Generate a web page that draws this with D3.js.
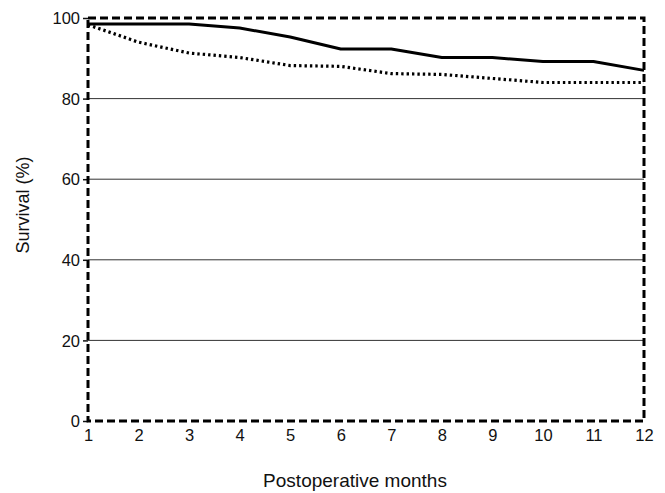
<!DOCTYPE html>
<html><head><meta charset="utf-8">
<script src="https://cdn.jsdelivr.net/npm/d3@7"></script>
<style>body{margin:0;background:#fff}svg{display:block}text{font-family:"Liberation Sans",Arial,sans-serif;fill:#111}</style>
</head><body><svg id="c" width="665" height="493"></svg>
<script>
const months = [1,2,3,4,5,6,7,8,9,10,11,12];
const solidSeries = [98.5,98.5,98.5,97.5,95.3,92.3,92.3,90.2,90.2,89.2,89.2,87.0];
const dottedSeries = [98.3,94.0,91.3,90.2,88.2,88.0,86.2,86.0,85.0,84.0,84.0,84.0];
const yTicks = [0,20,40,60,80,100];
const gridValues = [20,40,60,80];

const svg = d3.select("#c");
const L = 88, R = 644, T = 18, B = 421;
const x = d3.scaleLinear().domain([1,12]).range([L,R]);
const y = d3.scaleLinear().domain([0,100]).range([B,T]);

// gridlines
svg.append("g").selectAll("line").data(gridValues).join("line")
  .attr("x1",L).attr("x2",R).attr("y1",d=>y(d)).attr("y2",d=>y(d))
  .attr("stroke","#333").attr("stroke-width",1);

// y axis ticks & labels
const yAxis = d3.axisLeft(y).tickValues(yTicks).tickSize(5).tickPadding(3).tickFormat(d3.format("d"));
const gy = svg.append("g").attr("transform",`translate(${L},0)`).call(yAxis);
gy.select(".domain").remove();
gy.selectAll("line").attr("stroke","#111").attr("stroke-width",1.5);
gy.selectAll("text").style("font-size","16.5px").attr("fill","#111").attr("dy","0.35em");

// x axis labels
const xAxis = d3.axisBottom(x).tickValues(months).tickSize(0).tickPadding(8).tickFormat(d3.format("d"));
const gx = svg.append("g").attr("transform",`translate(0,${B})`).call(xAxis);
gx.select(".domain").remove();
gx.selectAll("text").style("font-size","16.5px").attr("fill","#111");

// lines
const line = d3.line().x((d,i)=>x(months[i])).y(d=>y(d));
svg.append("path").datum(solidSeries).attr("d",line)
  .attr("fill","none").attr("stroke","#000").attr("stroke-width",3).attr("stroke-linejoin","round");
svg.append("path").datum(dottedSeries).attr("d",line)
  .attr("fill","none").attr("stroke","#000").attr("stroke-width",3.2)
  .attr("stroke-dasharray","2.4,3");

// dashed frame
svg.append("rect").attr("x",L).attr("y",T).attr("width",R-L).attr("height",B-T)
  .attr("fill","none").attr("stroke","#000").attr("stroke-width",3).attr("stroke-dasharray","8,4");

// axis titles
svg.append("text").attr("x",355).attr("y",487).attr("text-anchor","middle")
  .style("font-size","19px").text("Postoperative months");
svg.append("text").attr("transform","translate(29,205) rotate(-90)").attr("text-anchor","middle")
  .style("font-size","18px").text("Survival (%)");
</script></body></html>
